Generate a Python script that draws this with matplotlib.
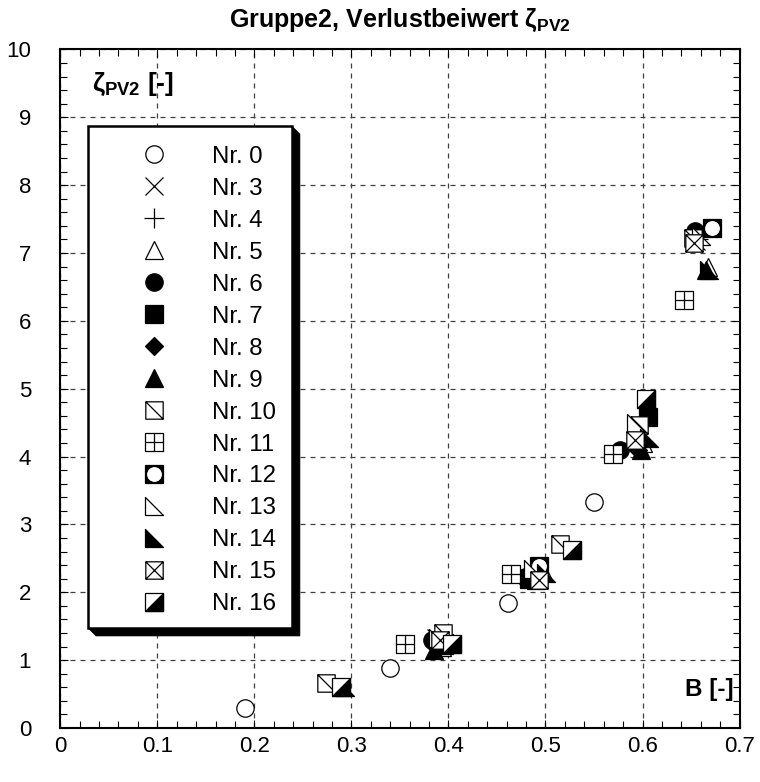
import matplotlib
matplotlib.use("Agg")
import matplotlib.pyplot as plt
from matplotlib.path import Path
from matplotlib.patches import Polygon
from matplotlib.ticker import MultipleLocator, FuncFormatter

plt.rcParams["font.family"] = ["Liberation Sans", "DejaVu Sans"]
plt.rcParams["mathtext.fontset"] = "custom"
plt.rcParams["mathtext.rm"] = "Liberation Sans:bold"
plt.rcParams["mathtext.it"] = "Liberation Sans:bold"
plt.rcParams["mathtext.bf"] = "Liberation Sans:bold"

# ---- data (B [-], zeta_PV2 [-]) ----
LABELS = ["Nr. 0", "Nr. 3", "Nr. 4", "Nr. 5", "Nr. 6", "Nr. 7", "Nr. 8", "Nr. 9",
          "Nr. 10", "Nr. 11", "Nr. 12", "Nr. 13", "Nr. 14", "Nr. 15", "Nr. 16"]

B_NR0 = [0.190, 0.340, 0.461, 0.550]
Z_NR0 = [0.30, 0.89, 1.84, 3.33]
B_NR3 = [0.387, 0.487, 0.594, 0.655]
Z_NR3 = [1.33, 2.33, 4.45, 7.18]
B_NR4 = [0.390, 0.490, 0.595, 0.657]
Z_NR4 = [1.30, 2.30, 4.35, 7.20]
B_NR5 = [0.393, 0.497, 0.600, 0.667]
Z_NR5 = [1.20, 2.32, 4.20, 6.80]
B_NR6 = [0.383, 0.479, 0.577, 0.654]
Z_NR6 = [1.30, 2.23, 4.10, 7.33]
B_NR7 = [0.395, 0.483, 0.606]
Z_NR7 = [1.25, 2.20, 4.58]
B_NR8 = [0.385, 0.481, 0.595]
Z_NR8 = [1.22, 2.22, 4.10]
B_NR9 = [0.385, 0.490, 0.598, 0.665]
Z_NR9 = [1.15, 2.18, 4.10, 6.75]
B_NR10 = [0.2735, 0.394, 0.515, 0.596, 0.652]
Z_NR10 = [0.66, 1.40, 2.71, 4.47, 7.22]
B_NR11 = [0.355, 0.464, 0.570, 0.643]
Z_NR11 = [1.24, 2.27, 4.04, 6.31]
B_NR12 = [0.493, 0.672]
Z_NR12 = [2.38, 7.37]
B_NR13 = [0.389, 0.487, 0.593, 0.660]
Z_NR13 = [1.32, 2.35, 4.50, 7.25]
B_NR14 = [0.293, 0.395, 0.501, 0.607, 0.668]
Z_NR14 = [0.60, 1.22, 2.28, 4.28, 6.75]
B_NR15 = [0.391, 0.493, 0.592, 0.653]
Z_NR15 = [1.30, 2.18, 4.25, 7.15]
B_NR16 = [0.289, 0.404, 0.527, 0.604]
Z_NR16 = [0.61, 1.24, 2.63, 4.85]

SERIES_B = [B_NR0, B_NR3, B_NR4, B_NR5, B_NR6, B_NR7, B_NR8, B_NR9,
            B_NR10, B_NR11, B_NR12, B_NR13, B_NR14, B_NR15, B_NR16]
SERIES_Z = [Z_NR0, Z_NR3, Z_NR4, Z_NR5, Z_NR6, Z_NR7, Z_NR8, Z_NR9,
            Z_NR10, Z_NR11, Z_NR12, Z_NR13, Z_NR14, Z_NR15, Z_NR16]

# ---- custom marker shapes ----
M, L, C = Path.MOVETO, Path.LINETO, Path.CLOSEPOLY


def box_with(lines):
    verts = [(-1, -1), (1, -1), (1, 1), (-1, 1), (-1, -1)]
    codes = [M, L, L, L, C]
    for a, b in lines:
        verts += [a, b]
        codes += [M, L]
    return Path(verts, codes)


M_DIAG = box_with([((-1, 1), (1, -1))])
M_GRID = box_with([((0, -1), (0, 1)), ((-1, 0), (1, 0))])
M_XBOX = box_with([((-1, 1), (1, -1)), ((-1, -1), (1, 1))])
M_TRI = Path([(-1, 1), (-1, -1), (1, -1), (-1, 1)], [M, L, L, C])
M_HALF = Path([(-1, -1), (1, -1), (1, 1), (-1, -1)], [M, L, L, C])

MS = 12.5
W, K = "white", "black"
# layers per series: (marker, size, face, edge)
STYLES = [
    [("o", MS, W, K)],
    [("x", MS, W, K)],
    [("+", MS * 1.15, W, K)],
    [("^", MS, W, K)],
    [("o", MS, K, K)],
    [("s", MS, K, K)],
    [("D", MS * 0.72, K, K)],
    [("^", MS, K, K)],
    [(M_DIAG, MS, W, K)],
    [(M_GRID, MS, W, K)],
    [("s", MS, K, K), ("o", MS * 0.78, W, W)],
    [(M_TRI, MS, W, K)],
    [(M_TRI, MS, K, K)],
    [(M_XBOX, MS, W, K)],
    [("s", MS, W, K), (M_HALF, MS, K, K)],
]

fig = plt.figure(figsize=(7.6, 7.82), dpi=100)
ax = fig.add_axes([0.0793, 0.0691, 0.8938, 0.8677])

handles = []
for bs, zs, layers in zip(SERIES_B, SERIES_Z, STYLES):
    parts = []
    for mk, ms, fc, ec in layers:
        ln, = ax.plot(bs, zs, ls="none", marker=mk, ms=ms, mfc=fc, mec=ec,
                      mew=0.9, zorder=3)
        parts.append(ln)
    handles.append(parts[0] if len(parts) == 1 else tuple(parts))

ax.set_xlim(0, 0.7)
ax.set_ylim(0, 10)
ax.xaxis.set_major_locator(MultipleLocator(0.1))
ax.xaxis.set_minor_locator(MultipleLocator(0.02))
ax.yaxis.set_major_locator(MultipleLocator(1))
ax.yaxis.set_minor_locator(MultipleLocator(0.2))
ax.xaxis.set_major_formatter(FuncFormatter(lambda v, p: "0" if abs(v) < 1e-9 else f"{v:.1f}"))
ax.yaxis.set_major_formatter(FuncFormatter(lambda v, p: f"{v:.0f}"))
ax.tick_params(which="both", direction="in", top=True, right=True, width=0.8)
ax.tick_params(which="major", length=6, labelsize=16)
ax.tick_params(which="minor", length=5)
ax.tick_params(axis="x", pad=6)
ax.tick_params(axis="y", pad=21)
for s in ax.spines.values():
    s.set_linewidth(1.5)
ax.grid(True, which="major", color="0.25", lw=0.9, ls=(0, (4, 4)))
ax.set_axisbelow(True)

ax.set_title(r"Gruppe2, Verlustbeiwert $\zeta_{PV2}$", fontsize=18,
             fontweight="bold", pad=16)
ax.text(0.046, 0.948, r"$\zeta_{PV2}$ [-]", transform=ax.transAxes,
        fontsize=19, fontweight="bold", ha="left", va="center")
ax.text(0.992, 0.056, "B [-]", transform=ax.transAxes, fontsize=17.5,
        fontweight="bold", ha="right", va="center")

# legend box with a solid drop shadow
x0, x1, y0, y1 = 0.0408, 0.341, 0.1474, 0.887
dx, dy = 8 / 679.3, 8 / 678.5
shadow = Polygon([(x1, y1), (x1 + dx, y1 - dy), (x1 + dx, y0 - dy),
                  (x0 + dx, y0 - dy), (x0, y0)], closed=True,
                 transform=ax.transAxes, facecolor=K, edgecolor=K, lw=0.5,
                 zorder=4)
box = Polygon([(x0, y0), (x1, y0), (x1, y1), (x0, y1)], closed=True,
              transform=ax.transAxes, facecolor=W, edgecolor=K, lw=1.8,
              zorder=4)
ax.add_patch(shadow)
ax.add_patch(box)

leg = ax.legend(handles, LABELS, loc="upper left", bbox_to_anchor=(0.105, 0.858),
                frameon=False, fontsize=17.3, handlelength=1.9,
                handletextpad=1.45, labelspacing=0.415, borderpad=0,
                borderaxespad=0, numpoints=1)
leg.set_zorder(5)

fig.savefig("out.png", dpi=100)
